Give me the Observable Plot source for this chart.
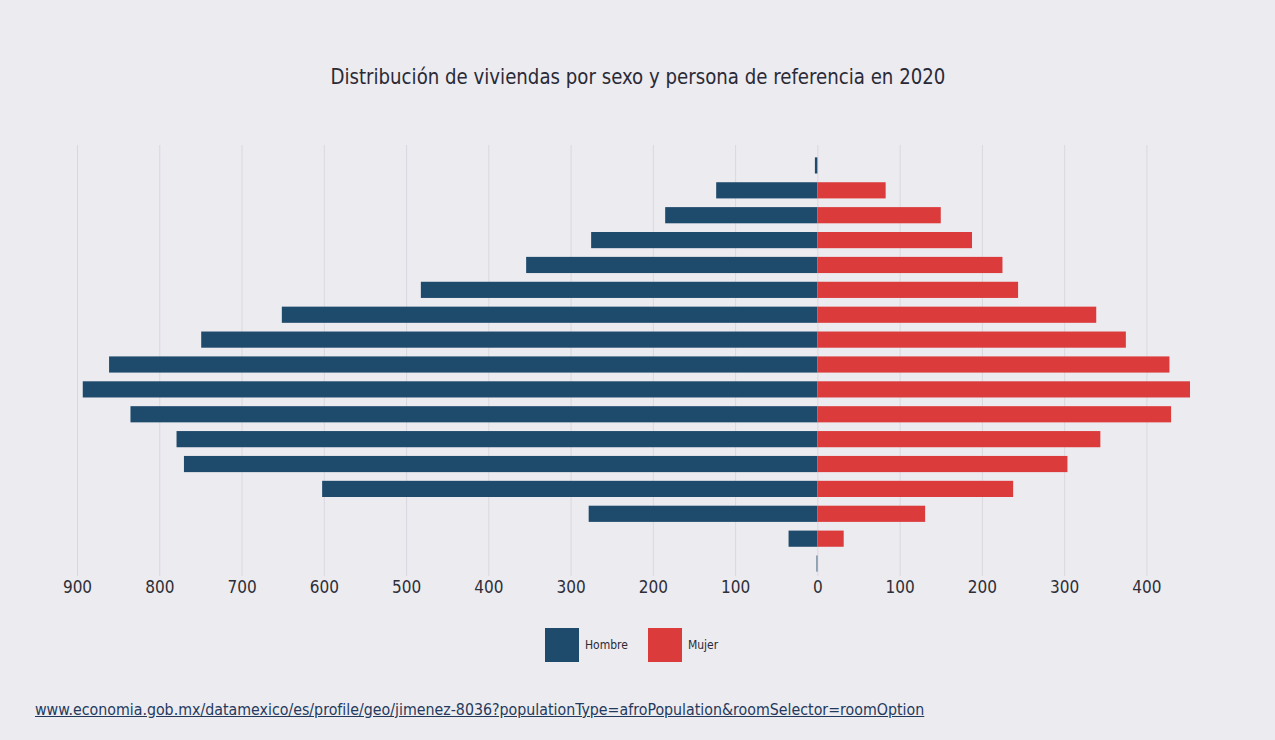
<!DOCTYPE html>
<html lang="es">
<head>
<meta charset="utf-8">
<script src="https://cdn.jsdelivr.net/npm/d3@7"></script>
<script src="https://cdn.jsdelivr.net/npm/@observablehq/plot@0.6"></script>
<style>
  html, body { margin: 0; padding: 0; }
  body {
    width: 1275px; height: 740px; position: relative; overflow: hidden;
    background: #ecebf0;
    font-family: "Liberation Sans Narrow", "DejaVu Sans Condensed", "Roboto Condensed", Roboto, sans-serif;
    font-stretch: condensed;
  }
  #title {
    position: absolute; top: 63px; left: 0; width: 1275px; text-align: center;
    font-size: 22px; line-height: 28px; color: #2a2a36; white-space: nowrap;
  }
  #title span { display: inline-block; transform-origin: 50% 50%; }
  #chart { position: absolute; top: 120px; left: 0; }
  #legend {
    position: absolute; top: 628px; left: 545px; display: flex; align-items: center;
    font-size: 12px; color: #2a2a36;
  }
  #legend .sw { width: 34px; height: 34px; display: inline-block; }
  #legend .lab { margin-left: 6px; margin-right: 20px; }
  #src {
    position: absolute; left: 35px; top: 700px; font-size: 15px; line-height: 20px;
    color: #243a5c; text-decoration: underline; white-space: nowrap;
  }
</style>
</head>
<body>
<div id="title"><span>Distribución de viviendas por sexo y persona de referencia en 2020</span></div>
<div id="chart"></div>
<div id="legend"></div>
<a id="src">www.economia.gob.mx/datamexico/es/profile/geo/jimenez-8036?populationType=afroPopulation&amp;roomSelector=roomOption</a>
<script>
// ---- data (rows listed top to bottom) ----
const ageGroups = ["95-99","90-94","85-89","80-84","75-79","70-74","65-69","60-64","55-59","50-54","45-49","40-44","35-39","30-34","25-29","20-24","15-19"];
const hombre = [3, 123, 185, 275, 354, 482, 651, 749, 861, 893, 835, 779, 770, 602, 278, 35, 1];
const mujer  = [0, 83, 150, 188, 225, 244, 339, 375, 428, 453, 430, 344, 304, 238, 131, 32, 0];
const series = ["Hombre", "Mujer"];
const seriesColors = ["#1e4a6b", "#db3b3b"];
const xTicks = [-900, -800, -700, -600, -500, -400, -300, -200, -100, 0, 100, 200, 300, 400];

const rows = [
  ...ageGroups.map((g, i) => ({group: g, sexo: series[0], value: -hombre[i]})),
  ...ageGroups.map((g, i) => ({group: g, sexo: series[1], value: mujer[i]}))
];

const chart = Plot.plot({
  width: 1275,
  height: 490,
  marginLeft: 77,
  marginRight: 71,
  marginTop: 33,
  marginBottom: 34,
  style: {
    background: "transparent",
    fontFamily: '"Liberation Sans Narrow", "DejaVu Sans Condensed", "Roboto Condensed", Roboto, sans-serif',
    fontSize: "17px",
    color: "#2e2e38"
  },
  x: {domain: [-900, 470]},
  y: {domain: ageGroups, paddingInner: 0.35, paddingOuter: 0.175, round: false, axis: null},
  color: {domain: series, range: seriesColors},
  marks: [
    Plot.gridX(xTicks, {stroke: "#dad8df", strokeOpacity: 1, strokeWidth: 1, insetTop: -8}),
    Plot.axisX(xTicks, {tickSize: 0, tickPadding: 4, tickFormat: d => Math.abs(d), label: null}),
    Plot.barX(rows, {y: "group", x: "value", fill: "sexo"})
  ]
});
document.getElementById("chart").appendChild(chart);

// legend
const legend = document.getElementById("legend");
series.forEach((s, i) => {
  const sw = document.createElement("span");
  sw.className = "sw";
  sw.style.background = seriesColors[i];
  const lab = document.createElement("span");
  lab.className = "lab";
  lab.textContent = s;
  legend.appendChild(sw);
  legend.appendChild(lab);
});

// fit title (horizontal squeeze) and source link width to reference
const tspan = document.querySelector("#title span");
{
  const w = tspan.getBoundingClientRect().width;
  tspan.style.transform = `scaleX(${615 / w})`;
}
{
  const el = document.getElementById("src");
  const w = el.getBoundingClientRect().width;
  const fs = parseFloat(getComputedStyle(el).fontSize);
  el.style.fontSize = (fs * 890 / w) + "px";
}
</script>
</body>
</html>
